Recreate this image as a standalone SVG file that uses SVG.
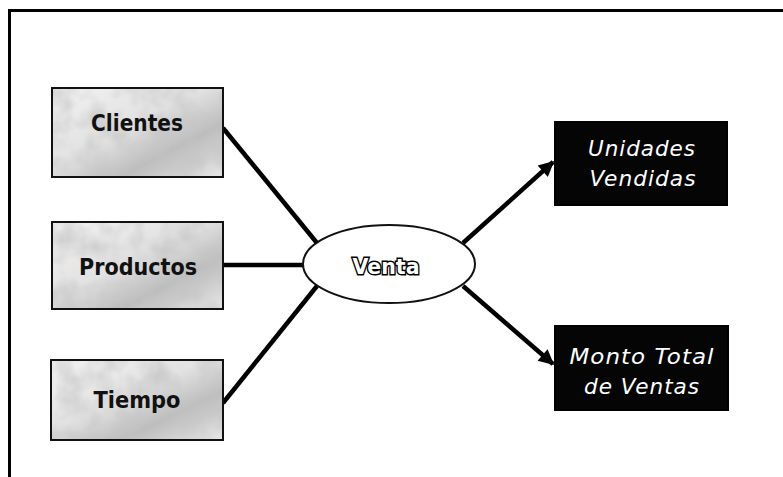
<svg xmlns="http://www.w3.org/2000/svg" width="783" height="477" viewBox="0 0 783 477">
  <style>
    .dim rect { fill: url(#dimFill); stroke: #111; stroke-width: 2; }
    .dim text { font-family: "DejaVu Sans", "Liberation Sans", sans-serif; font-weight: bold; font-size: 23px; fill: #111; text-anchor: middle; }
    .measure rect { fill: #050505; stroke: #000; stroke-width: 2; }
    .measure text { font-family: "DejaVu Sans", "Liberation Sans", sans-serif; font-style: italic; font-size: 22px; fill: #fff; text-anchor: middle; letter-spacing: 1px; }
    .fact ellipse { fill: #fff; stroke: #111; stroke-width: 2; }
    .fact text { font-family: "DejaVu Sans", "Liberation Sans", sans-serif; font-weight: bold; font-size: 22px; fill: #fff; stroke: #000; stroke-width: 3; paint-order: stroke; text-anchor: middle; }
    .link { stroke: #000; stroke-width: 4.5; fill: none; }
    .arrow { stroke: #000; stroke-width: 4.5; fill: none; marker-end: url(#head); }
  </style>
  <defs>
    <linearGradient id="dimFill" x1="0" y1="0" x2="1" y2="1">
      <stop offset="0" stop-color="#f2f2f2"/>
      <stop offset="0.45" stop-color="#e2e2e2"/>
      <stop offset="0.7" stop-color="#bdbdbd"/>
      <stop offset="1" stop-color="#e6e6e6"/>
    </linearGradient>
    <filter id="grain" x="0" y="0" width="1" height="1">
      <feTurbulence type="fractalNoise" baseFrequency="0.035" numOctaves="3" seed="4" result="n"/>
      <feColorMatrix in="n" type="matrix" values="0 0 0 0 0.55  0 0 0 0 0.55  0 0 0 0 0.55  0 0 0 -1.6 1.0" result="g"/>
      <feComposite in="g" in2="SourceGraphic" operator="in"/>
    </filter>
    <marker id="head" viewBox="0 0 10 10" refX="9" refY="5" markerWidth="4" markerHeight="3.4" orient="auto" markerUnits="strokeWidth">
      <path d="M0,0 L10,5 L0,10 z" fill="#000"/>
    </marker>
  </defs>

  <!-- page frame -->
  <path d="M9.5,477 V10.5 H783" fill="none" stroke="#000" stroke-width="3"/>

  <!-- connectors -->
  <g id="connectors">
    <line class="link" x1="223" y1="128" x2="317" y2="243"/>
    <line class="link" x1="223" y1="265" x2="303" y2="265"/>
    <line class="link" x1="223" y1="403" x2="317" y2="286"/>
    <line class="arrow" x1="463" y1="243" x2="553" y2="162"/>
    <line class="arrow" x1="463" y1="286" x2="553" y2="364"/>
  </g>

  <!-- dimensions -->
  <g id="clientes" class="dim">
    <rect x="52" y="88" width="171" height="89"/>
    <rect x="53" y="89" width="169" height="87" filter="url(#grain)" style="stroke:none"/>
    <text x="137" y="131" textLength="92" lengthAdjust="spacingAndGlyphs">Clientes</text>
  </g>
  <g id="productos" class="dim">
    <rect x="52" y="222" width="171" height="87"/>
    <rect x="53" y="223" width="169" height="85" filter="url(#grain)" style="stroke:none"/>
    <text x="138" y="275" textLength="118" lengthAdjust="spacingAndGlyphs">Productos</text>
  </g>
  <g id="tiempo" class="dim">
    <rect x="51" y="360" width="172" height="80"/>
    <rect x="52" y="361" width="170" height="78" filter="url(#grain)" style="stroke:none"/>
    <text x="137" y="408" textLength="87" lengthAdjust="spacingAndGlyphs">Tiempo</text>
  </g>

  <!-- fact -->
  <g id="venta" class="fact">
    <ellipse cx="389" cy="264" rx="86" ry="39"/>
    <text x="386" y="274" textLength="67" lengthAdjust="spacingAndGlyphs">Venta</text>
  </g>

  <!-- measures -->
  <g id="unidades" class="measure">
    <rect x="555" y="122" width="172" height="83"/>
    <text x="642" y="156" textLength="108" lengthAdjust="spacingAndGlyphs">Unidades</text>
    <text x="643" y="186" textLength="107" lengthAdjust="spacingAndGlyphs">Vendidas</text>
  </g>
  <g id="monto" class="measure">
    <rect x="555" y="326" width="173" height="84"/>
    <text x="642" y="364" textLength="145" lengthAdjust="spacingAndGlyphs">Monto Total</text>
    <text x="642" y="394" textLength="116" lengthAdjust="spacingAndGlyphs">de Ventas</text>
  </g>
</svg>
